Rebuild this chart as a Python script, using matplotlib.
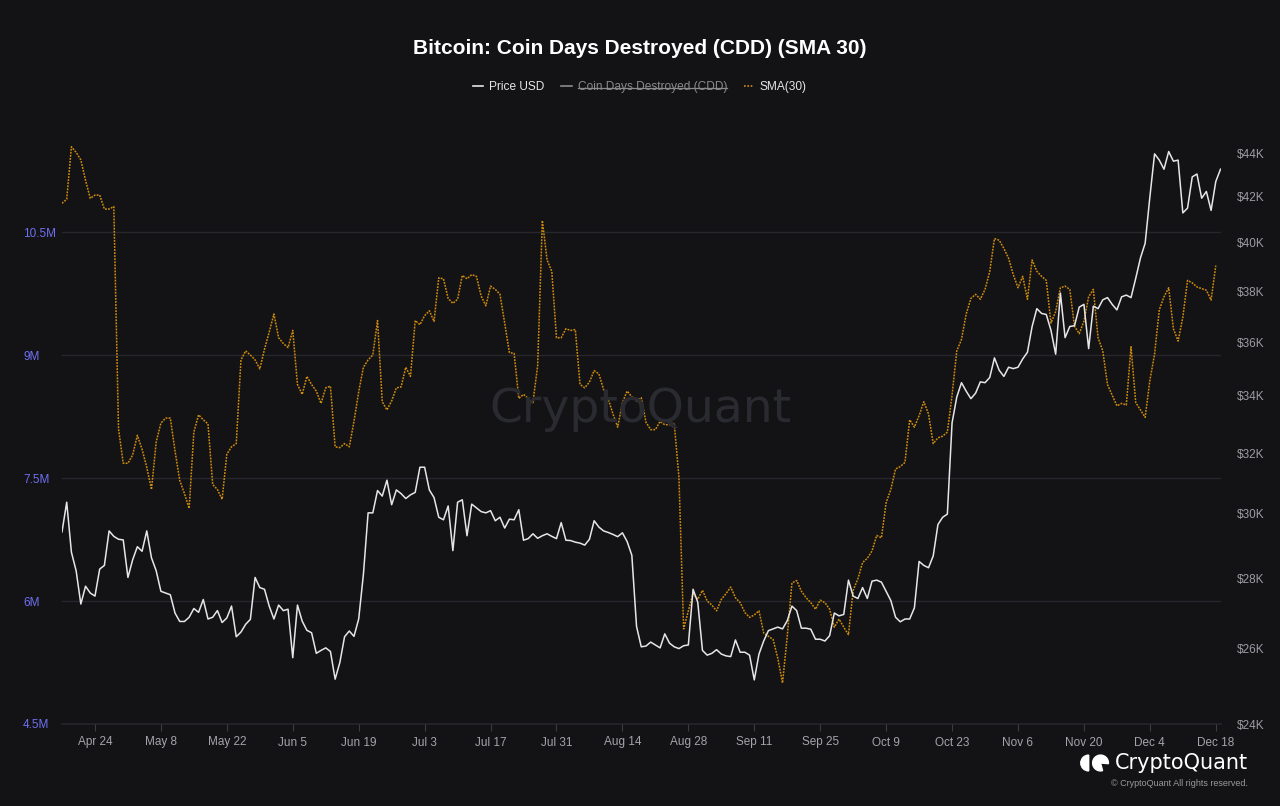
import numpy as np
import pandas as pd
import matplotlib
matplotlib.use("Agg")
import matplotlib.pyplot as plt
from matplotlib.lines import Line2D
from matplotlib.patches import Wedge
from matplotlib.ticker import FixedLocator, NullLocator

plt.rcParams['font.family'] = ['Liberation Sans', 'DejaVu Sans']

# daily series, first day 2023-04-17
start_date = "2023-04-17"

# BTC price in thousands of USD
price_k = [
    29.43, 30.37, 28.80, 28.24, 27.26, 27.78, 27.58, 27.49, 28.29, 28.40,
    29.46, 29.29, 29.20, 29.18, 28.04, 28.57, 28.97, 28.83, 29.46, 28.63,
    28.24, 27.63, 27.58, 27.53, 27.00, 26.76, 26.76, 26.88, 27.13, 27.02,
    27.39, 26.83, 26.88, 27.07, 26.73, 26.86, 27.20, 26.33, 26.46, 26.68,
    26.82, 28.04, 27.74, 27.69, 27.20, 26.83, 27.23, 27.07, 27.11, 25.75,
    27.23, 26.77, 26.51, 26.44, 25.87, 25.95, 26.02, 25.92, 25.17, 25.62,
    26.33, 26.49, 26.34, 26.83, 28.13, 30.03, 30.03, 30.75, 30.57, 31.09,
    30.29, 30.77, 30.65, 30.49, 30.61, 30.69, 31.52, 31.52, 30.77, 30.52,
    29.89, 29.81, 30.25, 28.85, 30.37, 30.45, 29.31, 30.31, 30.19, 30.07,
    30.03, 30.10, 29.78, 29.89, 29.55, 29.83, 29.81, 30.13, 29.17, 29.22,
    29.37, 29.23, 29.31, 29.37, 29.29, 29.22, 29.72, 29.17, 29.16, 29.11,
    29.08, 29.02, 29.20, 29.78, 29.58, 29.46, 29.41, 29.35, 29.28, 29.40,
    29.13, 28.71, 26.62, 26.05, 26.07, 26.18, 26.10, 26.02, 26.41, 26.15,
    26.05, 26.00, 26.08, 26.10, 27.69, 27.31, 25.95, 25.82, 25.87, 25.97,
    25.85, 25.80, 25.78, 26.24, 25.90, 25.90, 25.82, 25.15, 25.85, 26.21,
    26.50, 26.55, 26.60, 26.55, 26.78, 27.20, 27.07, 26.57, 26.57, 26.54,
    26.26, 26.26, 26.21, 26.36, 27.00, 26.92, 26.96, 27.96, 27.49, 27.42,
    27.74, 27.42, 27.93, 27.96, 27.90, 27.63, 27.36, 26.88, 26.75, 26.83,
    26.83, 27.15, 28.52, 28.40, 28.33, 28.69, 29.66, 29.89, 29.99, 33.04,
    33.96, 34.48, 34.17, 33.90, 34.10, 34.51, 34.48, 34.67, 35.40, 34.94,
    34.71, 35.05, 35.00, 35.05, 35.36, 35.61, 36.60, 37.30, 37.11, 37.07,
    36.45, 35.54, 37.92, 36.17, 36.60, 36.63, 37.36, 37.47, 35.75, 37.40,
    37.30, 37.65, 37.74, 37.47, 37.25, 37.77, 37.84, 37.74, 38.52, 39.36,
    39.98, 41.99, 43.96, 43.67, 43.25, 44.07, 43.62, 43.67, 41.29, 41.50,
    42.90, 43.03, 41.94, 42.24, 41.40, 42.69, 43.25,
]

# Coin Days Destroyed, 30-day SMA, in millions
sma_m = [
    10.85, 10.90, 11.54, 11.47, 11.38, 11.13, 10.91, 10.95, 10.95, 10.78,
    10.78, 10.81, 8.10, 7.68, 7.68, 7.78, 8.02, 7.85, 7.63, 7.36,
    7.94, 8.17, 8.23, 8.23, 7.83, 7.47, 7.31, 7.13, 8.06, 8.27,
    8.21, 8.16, 7.42, 7.36, 7.24, 7.79, 7.88, 7.92, 8.94, 9.05,
    9.00, 8.94, 8.83, 9.07, 9.28, 9.50, 9.21, 9.14, 9.09, 9.30,
    8.64, 8.52, 8.74, 8.64, 8.56, 8.41, 8.60, 8.62, 7.88, 7.87,
    7.92, 7.88, 8.19, 8.55, 8.85, 8.94, 9.00, 9.42, 8.43, 8.33,
    8.44, 8.60, 8.61, 8.85, 8.74, 9.42, 9.37, 9.48, 9.54, 9.41,
    9.94, 9.93, 9.69, 9.63, 9.68, 9.97, 9.93, 9.98, 9.96, 9.72,
    9.60, 9.84, 9.80, 9.74, 9.39, 9.03, 9.02, 8.47, 8.52, 8.47,
    8.42, 8.87, 10.64, 10.16, 10.02, 9.21, 9.21, 9.32, 9.30, 9.31,
    8.64, 8.60, 8.67, 8.81, 8.77, 8.58, 8.46, 8.28, 8.12, 8.42,
    8.56, 8.49, 8.44, 8.48, 8.18, 8.09, 8.09, 8.19, 8.15, 8.15,
    8.17, 7.51, 5.66, 5.88, 6.09, 6.02, 6.13, 6.00, 5.95, 5.88,
    6.02, 6.09, 6.17, 6.04, 5.98, 5.86, 5.80, 5.83, 5.88, 5.61,
    5.57, 5.53, 5.30, 5.00, 5.57, 6.22, 6.25, 6.12, 6.04, 5.98,
    5.90, 6.01, 5.98, 5.90, 5.68, 5.78, 5.68, 5.59, 6.13, 6.27,
    6.47, 6.52, 6.61, 6.80, 6.77, 7.20, 7.36, 7.61, 7.64, 7.69,
    8.21, 8.12, 8.26, 8.43, 8.28, 7.92, 7.99, 8.01, 8.06, 8.51,
    9.05, 9.19, 9.50, 9.69, 9.74, 9.68, 9.80, 10.02, 10.42, 10.40,
    10.30, 10.18, 9.98, 9.82, 9.96, 9.68, 10.16, 10.02, 9.96, 9.91,
    9.39, 9.53, 9.82, 9.84, 9.80, 9.35, 9.26, 9.41, 9.71, 9.80,
    9.21, 9.05, 8.64, 8.51, 8.38, 8.41, 8.39, 9.10, 8.42, 8.33,
    8.24, 8.69, 9.01, 9.55, 9.71, 9.82, 9.32, 9.17, 9.46, 9.91,
    9.88, 9.83, 9.81, 9.79, 9.67, 10.09,
]

left_ticks = [4.5, 6, 7.5, 9, 10.5]
left_labels = ["4.5M", "6M", "7.5M", "9M", "10.5M"]
right_ticks = [24, 26, 28, 30, 32, 34, 36, 38, 40, 42, 44]
right_labels = ["$%dK" % v for v in right_ticks]

dates = pd.date_range(start_date, periods=len(price_k), freq="D")
tick_dates = pd.date_range("2023-04-24", "2023-12-18", freq="14D")

bg = "#131316"
grid_c = "#26262b"
W, H = 1280, 806

fig = plt.figure(figsize=(W / 100, H / 100), dpi=100, facecolor=bg)
ax = fig.add_axes([62 / W, 82 / H, (1220.5 - 62) / W, 604 / H])
ax.set_facecolor(bg)
ax2 = ax.twinx()

ax.plot(dates[:len(sma_m)], np.array(sma_m) * 1e6, color="#d08c0c",
        lw=1.1, linestyle=(0, (1.2, 0.8)), label="SMA(30)")
ax2.plot(dates, np.array(price_k) * 1e3, color="#e6e6e6", lw=1.1,
         label="Price USD")

ax.set_xlim(dates[0], dates[-1])
ax.set_ylim(4.5e6, 4.5e6 + 604 / 82 * 1e6)
ax2.set_yscale("log")
ax2.set_ylim(24000, 24000 * np.exp(604 / 942))

ax.yaxis.set_major_locator(FixedLocator([v * 1e6 for v in left_ticks]))
ax.set_yticklabels(left_labels)
ax.yaxis.set_minor_locator(NullLocator())
ax2.yaxis.set_major_locator(FixedLocator([v * 1e3 for v in right_ticks]))
ax2.set_yticklabels(right_labels)
ax2.yaxis.set_minor_locator(NullLocator())

ax.set_xticks(tick_dates)
ax.set_xticklabels(["%s %d" % (d.strftime("%b"), d.day) for d in tick_dates])

for a in (ax, ax2):
    for s in a.spines.values():
        s.set_visible(False)

ax.grid(axis="y", color=grid_c, lw=1.0)
ax.axhline(4.5e6, color=grid_c, lw=1.2, clip_on=False, zorder=0.5)
ax.set_axisbelow(True)
ax.tick_params(axis="y", length=0, pad=28, labelsize=8.5, labelcolor="#6f6ff2")
for lbl in ax.get_yticklabels():
    lbl.set_horizontalalignment("left")
ax2.tick_params(axis="y", length=0, pad=12, labelsize=8.5, labelcolor="#9c9ca4")
ax.tick_params(axis="x", length=5, width=0.8, color="#3a3a40", pad=4,
               labelsize=8.5, labelcolor="#a4a4aa")

# title and legend
fig.text(0.5, (H - 48) / H, "Bitcoin: Coin Days Destroyed (CDD) (SMA 30)",
         ha="center", va="center", color="white", fontsize=15, fontweight="bold")

handles = [
    Line2D([], [], color="#e6e6e6", lw=1.2),
    Line2D([], [], color="#8a8a8a", lw=1.2),
    Line2D([], [], color="#d08c0c", lw=1.2, linestyle=(0, (1, 1))),
]
names = ["Price USD", "Coin Days Destroyed (CDD)", "SMA(30)"]
leg = fig.legend(handles, names, loc="center", bbox_to_anchor=(0.5, (H - 87) / H),
                 ncol=3, frameon=False, fontsize=8.6, handlelength=0.85,
                 handletextpad=0.5, columnspacing=1.4)
for txt, c in zip(leg.get_texts(), ["#e6e6e6", "#8a8a8a", "#e6e6e6"]):
    txt.set_color(c)

# watermark
fig.text(0.5, (H - 410) / H, "CryptoQuant", ha="center", va="center",
         color="#2a2a31", fontsize=34, family=["DejaVu Sans"], zorder=0)

# footer logo
fig.text(1248 / W, (H - 763) / H, "CryptoQuant", ha="right", va="center",
         color="white", fontsize=15, family=["DejaVu Sans"])
fig.text(1248 / W, (H - 784) / H, "\u00a9 CryptoQuant All rights reserved.",
         ha="right", va="center", color="#9a9a9a", fontsize=6.5)
lax = fig.add_axes([1080 / W, (H - 775) / H, 30 / W, 24 / H])
lax.set_xlim(-1.1, 2.7)
lax.set_ylim(-1.5, 1.5)
lax.set_aspect("equal")
lax.axis("off")
lax.add_patch(Wedge((0, 0), 1.0, 90, 270, color="white"))
lax.add_patch(Wedge((1.5, 0), 1.0, -5, 285, color="white"))

# strike through the CDD legend entry
fig.canvas.draw()
bb = leg.get_texts()[1].get_window_extent()
inv = fig.transFigure.inverted()
(x0, y0), (x1, y1) = inv.transform([(bb.x0, bb.y0), (bb.x1, bb.y1)])
ym = y0 + (y1 - y0) * 0.42
fig.add_artist(Line2D([x0, x1], [ym, ym], color="#8a8a8a", lw=0.9,
                      transform=fig.transFigure))

fig.savefig("out.png", dpi=100, facecolor=bg)
